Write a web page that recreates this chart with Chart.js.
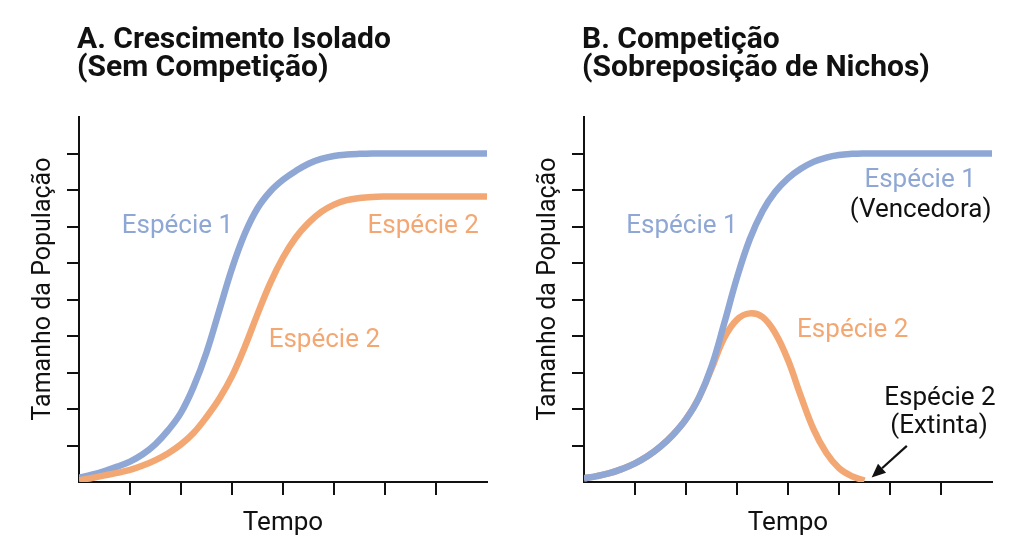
<!DOCTYPE html>
<html>
<head>
<meta charset="utf-8">
<script src="https://cdn.jsdelivr.net/npm/chart.js@4.4.1/dist/chart.umd.min.js"></script>
<style>
  html, body { margin: 0; padding: 0; background: #ffffff; }
  #wrap { position: relative; width: 1024px; height: 559px; overflow: hidden; }
  .panel { position: absolute; top: 0; width: 512px; height: 559px; }
  #pA { left: 0; }
  #pB { left: 512px; }
</style>
</head>
<body>
<div id="wrap">
  <div class="panel" id="pA"><canvas id="cA" width="512" height="559"></canvas></div>
  <div class="panel" id="pB"><canvas id="cB" width="512" height="559"></canvas></div>
</div>
<script>
// ---- data ----
const tempo = [0,0.25,0.5,0.75,1,1.25,1.5,1.75,2,2.25,2.5,2.75,3,3.25,3.5,3.75,4,4.25,4.5,4.75,5,5.25,5.5,5.75,6,6.25,6.5,6.75,7,7.25,7.5,7.75,8];

// Panel A: isolated growth
const isoladoEspecie1 = [0.12,0.2,0.3,0.42,0.56,0.76,1.04,1.42,1.9,2.62,3.55,4.7,5.85,6.8,7.5,7.96,8.28,8.52,8.72,8.85,8.93,8.97,8.99,9,9,9,9,9,9,9,9,9,9];
const isoladoEspecie2 = [0.05,0.11,0.18,0.25,0.33,0.45,0.6,0.79,1.03,1.35,1.78,2.28,2.9,3.7,4.6,5.45,6.15,6.7,7.1,7.4,7.6,7.72,7.78,7.81,7.82,7.82,7.82,7.82,7.82,7.82,7.82,7.82,7.82];

// Panel B: competition
const competicaoEspecie1 = [0.1,0.16,0.24,0.36,0.51,0.71,0.97,1.3,1.72,2.3,3.16,4.35,5.6,6.65,7.42,7.95,8.32,8.58,8.77,8.89,8.96,8.99,9,9,9,9,9,9,9,9,9,9,9];
const competicaoEspecie2 = [0.1,0.16,0.24,0.36,0.51,0.71,0.97,1.3,1.72,2.3,3.1,3.95,4.45,4.62,4.52,4.08,3.34,2.36,1.45,0.8,0.38,0.16,0.04,null,null,null,null,null,null,null,null,null,null];

const xTicks = [1,2,3,4,5,6,7];
const yTicks = [1,2,3,4,5,6,7,8,9];

const titlesA = ["A. Crescimento Isolado", "(Sem Competição)"];
const titlesB = ["B. Competição", "(Sobreposição de Nichos)"];
const xTitle = "Tempo";
const yTitle = "Tamanho da População";

const BLUE = "#8fa7d5";
const ORANGE = "#f3a874";
const INK = "#111111";

// annotation texts, anchored in data coordinates (centre x, baseline y)
const notesA = [
  { text: "Espécie 1", x: 1.93, y: 6.82, color: BLUE },
  { text: "Espécie 2", x: 6.75, y: 6.82, color: ORANGE },
  { text: "Espécie 2", x: 4.81, y: 3.70, color: ORANGE }
];
const notesB = [
  { text: "Espécie 1", x: 1.92, y: 6.82, color: BLUE },
  { text: "Espécie 1", x: 6.59, y: 8.08, color: BLUE },
  { text: "(Vencedora)", x: 6.60, y: 7.26, color: INK },
  { text: "Espécie 2", x: 5.27, y: 3.97, color: ORANGE },
  { text: "Espécie 2", x: 6.98, y: 2.11, color: INK },
  { text: "(Extinta)", x: 6.96, y: 1.34, color: INK }
];
const arrowB = { from: [6.33, 0.99], to: [5.64, 0.12] };

function decorPlugin(titles, notes, arrow) {
  return {
    id: "decor",
    afterDraw(chart) {
      const ctx = chart.ctx;
      const ca = chart.chartArea;
      const xs = chart.scales.x, ys = chart.scales.y;
      ctx.save();
      // panel titles
      ctx.fillStyle = INK;
      ctx.font = "bold 30px Roboto";
      ctx.textAlign = "left";
      ctx.textBaseline = "alphabetic";
      ctx.fillText(titles[0], ca.left - 2, 48);
      ctx.fillText(titles[1], ca.left - 2, 76);
      // axis titles
      ctx.font = "26px Roboto";
      ctx.textAlign = "center";
      ctx.fillText(xTitle, (ca.left + ca.right) / 2, 530);
      ctx.font = "25px Roboto";
      ctx.save();
      ctx.translate(ca.left - 29, 289);
      ctx.rotate(-Math.PI / 2);
      ctx.fillText(yTitle, 0, 0);
      ctx.restore();
      // annotations
      ctx.font = "26px Roboto";
      notes.forEach(n => {
        ctx.fillStyle = n.color;
        ctx.fillText(n.text, xs.getPixelForValue(n.x), ys.getPixelForValue(n.y));
      });
      // arrow
      if (arrow) {
        const x1 = xs.getPixelForValue(arrow.from[0]), y1 = ys.getPixelForValue(arrow.from[1]);
        const x2 = xs.getPixelForValue(arrow.to[0]), y2 = ys.getPixelForValue(arrow.to[1]);
        const ang = Math.atan2(y2 - y1, x2 - x1);
        const head = 14, hw = 6;
        const bx = x2 - head * Math.cos(ang), by = y2 - head * Math.sin(ang);
        ctx.strokeStyle = INK;
        ctx.lineWidth = 2.2;
        ctx.beginPath();
        ctx.moveTo(x1, y1);
        ctx.lineTo(bx, by);
        ctx.stroke();
        ctx.fillStyle = INK;
        ctx.beginPath();
        ctx.moveTo(x2, y2);
        ctx.lineTo(bx + hw * Math.sin(ang), by - hw * Math.cos(ang));
        ctx.lineTo(bx - hw * Math.sin(ang), by + hw * Math.cos(ang));
        ctx.closePath();
        ctx.fill();
      }
      ctx.restore();
    }
  };
}

function axisOpts(min, max, ticks, len) {
  return {
    type: "linear",
    min: min, max: max,
    afterBuildTicks(scale) { scale.ticks = ticks.map(v => ({ value: v })); },
    ticks: { display: false },
    grid: { drawOnChartArea: false, drawTicks: true, tickLength: len, color: INK, lineWidth: 2 },
    border: { display: true, color: INK, width: 2 }
  };
}

function series(data, color, order) {
  return {
    data: tempo.map((t, i) => ({ x: t, y: data[i] })),
    borderColor: color,
    borderWidth: 6.5,
    pointRadius: 0,
    tension: 0.4,
    borderCapStyle: "butt",
    borderJoinStyle: "round",
    fill: false,
    spanGaps: false,
    order: order
  };
}

function makeChart(id, datasets, titles, notes, arrow, pad) {
  return new Chart(document.getElementById(id), {
    type: "line",
    data: { datasets: datasets },
    options: {
      responsive: false,
      animation: false,
      events: [],
      layout: { padding: pad },
      plugins: { legend: { display: false }, tooltip: { enabled: false }, title: { display: false } },
      scales: {
        x: axisOpts(0, 8, xTicks, 13),
        y: axisOpts(0, 10, yTicks, 12)
      }
    },
    plugins: [decorPlugin(titles, notes, arrow)]
  });
}

makeChart("cA", [
  series(isoladoEspecie1, BLUE, 2),
  series(isoladoEspecie2, ORANGE, 1)
], titlesA, notesA, null, { left: 67, right: 25, top: 117, bottom: 64 });

makeChart("cB", [
  series(competicaoEspecie1, BLUE, 1),
  series(competicaoEspecie2, ORANGE, 2)
], titlesB, notesB, arrowB, { left: 60, right: 32, top: 117, bottom: 64 });
</script>
</body>
</html>
